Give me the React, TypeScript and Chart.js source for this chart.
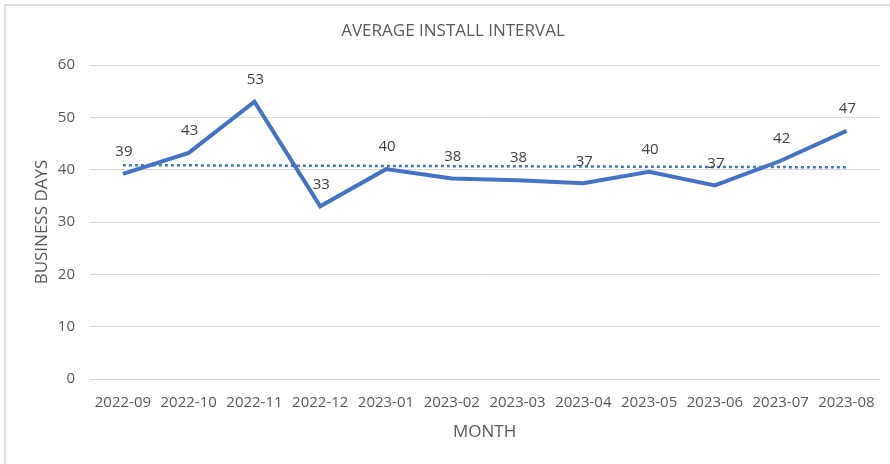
import React, { useEffect, useRef } from "react";
import { Chart, registerables } from "chart.js";

Chart.register(...registerables);

const months = [
  "2022-09", "2022-10", "2022-11", "2022-12", "2023-01", "2023-02",
  "2023-03", "2023-04", "2023-05", "2023-06", "2023-07", "2023-08",
];
const intervalDays = [39.2, 43.2, 53.0, 33.0, 40.1, 38.3, 38.0, 37.4, 39.6, 37.0, 41.7, 47.4];
const yTicks = [0, 10, 20, 30, 40, 50, 60];

const chartTitle = "AVERAGE INSTALL INTERVAL";
const yTitle = "BUSINESS DAYS";
const xTitle = "MONTH";

const FONT = "'Open Sans', 'DejaVu Sans', sans-serif";
const BLUE = "#4472C4";

// Linear trendline (least squares), as Excel computes it from the series
function linearTrend(values: number[]): number[] {
  const n = values.length;
  const mx = (n - 1) / 2;
  const my = values.reduce((a, b) => a + b, 0) / n;
  let sxy = 0, sxx = 0;
  values.forEach((v, i) => { sxy += (i - mx) * (v - my); sxx += (i - mx) * (i - mx); });
  const slope = sxy / sxx;
  return values.map((_, i) => my + slope * (i - mx));
}

const dataLabels = {
  id: "dataLabels",
  afterDatasetsDraw(chart: any) {
    const ctx = chart.ctx;
    const meta = chart.getDatasetMeta(1);
    const ds = chart.data.datasets[1];
    ctx.save();
    ctx.font = `15px ${FONT}`;
    ctx.fillStyle = "#404040";
    ctx.textAlign = "center";
    ctx.textBaseline = "middle";
    meta.data.forEach((pt: any, i: number) => {
      ctx.fillText(String(Math.round(ds.data[i])), pt.x + 1, pt.y - 22);
    });
    ctx.restore();
  },
};

const frame = {
  id: "frame",
  beforeDraw(chart: any) {
    const ctx = chart.ctx;
    ctx.save();
    ctx.fillStyle = "#ffffff";
    ctx.fillRect(0, 0, chart.width, chart.height);
    ctx.strokeStyle = "#dcdcdc";
    ctx.lineWidth = 2;
    ctx.beginPath();
    ctx.moveTo(5, chart.height);
    ctx.lineTo(5, 5);
    ctx.lineTo(chart.width, 5);
    ctx.stroke();
    // chart title (Excel places it slightly right of the canvas centre)
    ctx.font = `17px ${FONT}`;
    ctx.fillStyle = "#595959";
    ctx.textAlign = "center";
    ctx.textBaseline = "middle";
    ctx.fillText(chartTitle, 453, 31);
    ctx.restore();
  },
};

export default function App() {
  const ref = useRef<HTMLCanvasElement | null>(null);

  useEffect(() => {
    if (!ref.current) return;
    const chart = new Chart(ref.current, {
      type: "line",
      data: {
        labels: months,
        datasets: [
          {
            label: "Linear trend",
            data: linearTrend(intervalDays),
            borderColor: BLUE,
            borderWidth: 2.5,
            borderDash: [3, 3],
            pointRadius: 0,
            fill: false,
            tension: 0,
          },
          {
            label: "Average install interval",
            data: intervalDays,
            borderColor: BLUE,
            borderWidth: 4,
            pointRadius: 0,
            fill: false,
            tension: 0,
          },
        ],
      },
      options: {
        responsive: false,
        animation: false,
        layout: { padding: { left: 0, right: 10, top: 65, bottom: 0 } },
        plugins: {
          legend: { display: false },
          tooltip: { enabled: false },
          title: { display: false },
        },
        scales: {
          x: {
            offset: true,
            grid: { display: false, drawTicks: false },
            border: { display: false },
            ticks: {
              color: "#595959",
              font: { family: FONT, size: 15 },
              padding: 15,
              autoSkip: false,
              maxRotation: 0,
            },
            title: {
              display: true,
              text: xTitle,
              color: "#595959",
              font: { family: FONT, size: 17, lineHeight: 1.2 },
              padding: { top: 4, bottom: 22 },
            },
            afterFit: (s: any) => { s.height = 85; },
          },
          y: {
            min: 0,
            max: 60,
            afterBuildTicks: (s: any) => { s.ticks = yTicks.map((v) => ({ value: v })); },
            grid: { color: "#d9d9d9", lineWidth: 1, drawTicks: false },
            border: { display: false },
            ticks: {
              color: "#595959",
              font: { family: FONT, size: 15 },
              padding: 15,
            },
            title: {
              display: true,
              text: yTitle,
              color: "#595959",
              font: { family: FONT, size: 17, lineHeight: 1.2 },
              padding: { top: 32, bottom: 4 },
            },
            afterFit: (s: any) => { s.width = 90; },
          },
        },
      },
      plugins: [frame, dataLabels],
    });
    return () => chart.destroy();
  }, []);

  return (
    <div style={{ position: "absolute", left: 0, top: 0, width: 890, height: 464 }}>
      <canvas ref={ref} width={890} height={464} style={{ display: "block" }} />
    </div>
  );
}
